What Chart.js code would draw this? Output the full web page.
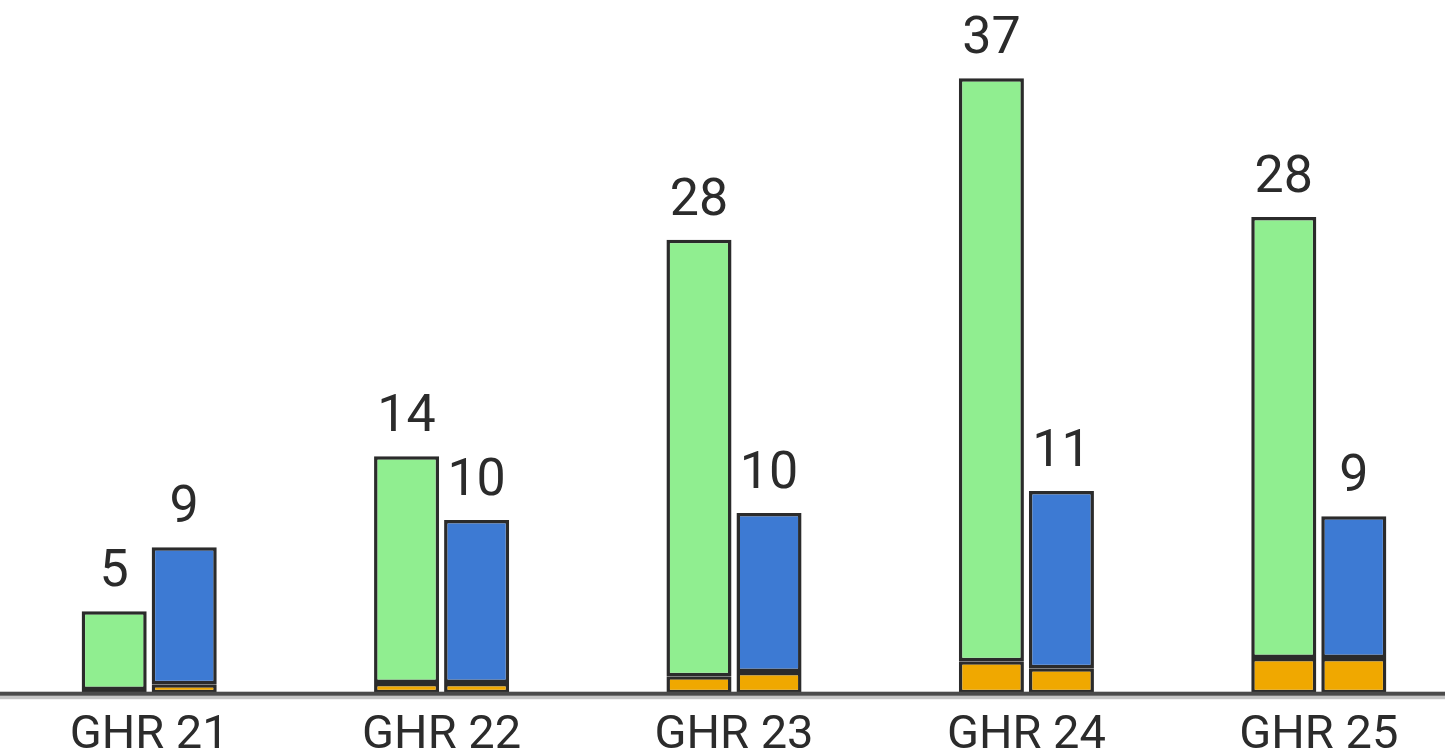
<!DOCTYPE html>
<html>
<head>
<meta charset="utf-8">
<script src="https://cdn.jsdelivr.net/npm/chart.js@4"></script>
<style>
  html, body { margin: 0; padding: 0; background: #fff; overflow: hidden; height: 756px; }
  #ghrChart { display: block; }
</style>
</head>
<body>
<canvas id="ghrChart" width="1468" height="779"></canvas>
<script>
// Dados
const categories = ["GHR 21", "GHR 22", "GHR 23", "GHR 24", "GHR 25"];
const greenValues = [5.0, 14.4, 27.7, 37.0, 28.0];
const greenBase = [0.2, 0.64, 1.08, 2.03, 2.23];
const blueValues = [8.7, 10.36, 10.1, 11.25, 9.0];
const blueBase = [0.57, 0.64, 1.34, 1.59, 2.23];
const yMax = 44;

const border = "rgba(20, 20, 20, 0.9)";

// rótulos acima das barras verde e azul
const topLabels = {
  id: "topLabels",
  afterDatasetsDraw(chart) {
    const ctx = chart.ctx;
    ctx.save();
    ctx.font = "52px Roboto";
    ctx.fillStyle = "#2b2b2b";
    ctx.textAlign = "center";
    ctx.textBaseline = "alphabetic";
    [1, 3].forEach((i) => {
      const meta = chart.getDatasetMeta(i);
      meta.data.forEach((bar, j) => {
        const v = chart.data.datasets[i].data[j];
        ctx.fillText(Math.round(v), bar.x, bar.y - 25);
      });
    });
    ctx.restore();
  },
};

// linha do eixo
const baseLine = {
  id: "baseLine",
  afterDatasetsDraw(chart) {
    const ctx = chart.ctx;
    const y = chart.scales.y.getPixelForValue(0);
    ctx.save();
    ctx.fillStyle = "#c4c4c4";
    ctx.fillRect(0, y + 2, chart.width, 4);
    ctx.fillStyle = "#4a4a4a";
    ctx.fillRect(0, y - 1.5, chart.width, 4);
    ctx.restore();
  },
};

new Chart(document.getElementById("ghrChart").getContext("2d"), {
  type: "bar",
  data: {
    labels: categories,
    datasets: [
      { data: greenBase, backgroundColor: "#f0a800", stack: "a" },
      { data: greenValues, backgroundColor: "#90ee90", stack: "a" },
      { data: blueBase, backgroundColor: "#f0a800", stack: "b" },
      { data: blueValues, backgroundColor: "#3d7ad3", stack: "b" },
    ],
  },
  options: {
    responsive: false,
    animation: false,
    layout: { padding: { left: 3, right: 3, top: 0, bottom: 0 } },
    datasets: {
      bar: {
        borderColor: border,
        borderWidth: 3.5,
        borderSkipped: false,
        categoryPercentage: 0.479,
        barPercentage: 0.929,
      },
    },
    plugins: {
      legend: { display: false },
      tooltip: { enabled: false },
    },
    scales: {
      x: {
        stacked: true,
        grid: { display: false, drawTicks: false },
        border: { display: false },
        ticks: {
          color: "#2b2b2b",
          font: { family: "Roboto", size: 47 },
          padding: 14.7,
          autoSkip: false,
          maxRotation: 0,
        },
      },
      y: {
        stacked: true,
        display: false,
        min: 0,
        max: yMax,
      },
    },
  },
  plugins: [topLabels, baseLine],
});
</script>
</body>
</html>
